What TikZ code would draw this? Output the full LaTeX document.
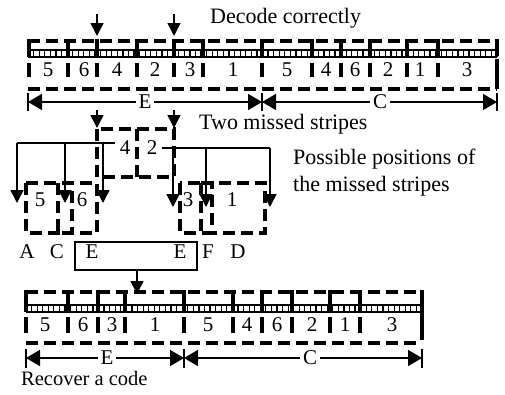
\documentclass[tikz,border=0pt]{standalone}
\usepackage{fontspec}
\setmainfont{Liberation Serif}
\usetikzlibrary{arrows.meta}
\begin{document}
\begin{tikzpicture}[x=1pt,y=-1pt,
  every node/.style={font=\fontsize{21}{23}\selectfont, inner sep=0pt},
  big/.style={font=\fontsize{22}{24}\selectfont},
  dashline/.style={line width=3.6pt, dash pattern=on 12pt off 6pt},
  bar/.style={line width=3.2pt},
  endbar/.style={line width=2.4pt},
  thin/.style={line width=1.6pt},
  conn/.style={line width=1.6pt, -{Triangle[length=13pt,width=13pt]}},
  dimarrow/.style={line width=1.6pt, {Triangle[length=14pt,width=16pt]}-{Triangle[length=14pt,width=16pt]}},
  lbl/.style={fill=white, inner xsep=3pt, inner ysep=1pt}
]
\useasboundingbox (0,0) rectangle (505,394);

% ---------- upper code strip ----------
\node[big, anchor=west] (dec) at (210,18) {Decode correctly};
\coordinate (a1s) at (97,14);  \coordinate (a1e) at (97,36);
\coordinate (a2s) at (174,14); \coordinate (a2e) at (174,36);
\draw[conn] (a1s) -- (a1e);
\draw[conn] (a2s) -- (a2e);

\draw[dashline] (28,41) -- (497,41);
\draw[dashline] (28,89) -- (497,89);
\draw[dashline] (497,41) -- (497,89);
\draw[line width=1.2pt] (28,50) -- (497,50);
\draw[line width=2pt] (28,56.5) -- (497,56.5);
\foreach \i in {0,...,84}
  \draw[line width=1.2pt] ({28+\i*5.5833},50) -- ({28+\i*5.5833},56.5);
\foreach \x in {29,68,97,137,174,203,262,312,341,370,407,438,497} {
  \draw[bar] (\x,39) -- (\x,56);
  \draw[bar] (\x,63) -- (\x,77);
}
\foreach \x/\t [count=\k] in {48/5,84/6,117/4,155/2,190/3,233/1,287/5,326/4,355/6,388/2,420/1,467/3}
  \node (u\k) at (\x,70) {\t};

\coordinate (uL) at (28,102); \coordinate (uM) at (262,102); \coordinate (uR) at (497,102);
\draw[dimarrow] (uL) -- (uM);
\draw[dimarrow] (uM) -- (uR);
\foreach \c in {uL,uM,uR} \draw[endbar] ([yshift=-9pt]\c) -- ([yshift=9pt]\c);
\node[lbl] (uE) at (145,102) {E};
\node[lbl] (uC) at (380,102) {C};

% ---------- the two missed stripes ----------
\node[big, anchor=west] (two) at (199,124) {Two missed stripes};
\coordinate (m1s) at (97,110);  \coordinate (m1e) at (97,128);
\coordinate (m2s) at (174,110); \coordinate (m2e) at (174,128);
\draw[conn] (m1s) -- (m1e);
\draw[conn] (m2s) -- (m2e);

\draw[dashline] (97,129) rectangle (174,177);
\draw[dashline] (137,129) -- (137,177);
\node (s4) at (125,148) {4};
\node (s2) at (152,148) {2};

% candidate positions of stripe 4
\draw[thin] (17,143) -- (115,143);
\foreach \x in {17,65,103} \draw[conn] (\x,143) -- (\x,203);
% candidate positions of stripe 2
\draw[thin] (162,148) -- (270,148);
\foreach \x in {173,206,270} \draw[conn] (\x,148) -- (\x,207);

\draw[dashline] (26,183) rectangle (72,233);
\draw[dashline] (58,183) rectangle (97,233);
\draw[dashline] (180,183) rectangle (212,233);
\draw[dashline] (201,183) rectangle (265,233);
\node (p5) at (40,200) {5};
\node (p6) at (82,200) {6};
\node (p3) at (188,200) {3};
\node (p1) at (232,200) {1};

\node[big, anchor=west] (pos1) at (293,159) {Possible positions of};
\node[big, anchor=west] (pos2) at (293,186) {the missed stripes};

\node (lA) at (27,252) {A};
\node (lC) at (57,252) {C};
\node (lE1) at (92,252) {E};
\node (lE2) at (180,252) {E};
\node (lF) at (208,252) {F};
\node (lD) at (238,252) {D};
\draw[thin] (75,242) rectangle (197,270);
\coordinate (rs) at (137,270); \coordinate (re) at (137,294);
\draw[conn] (rs) -- (re);

% ---------- recovered code strip ----------
\draw[dashline] (26,292) -- (422,292);
\draw[dashline] (26,343) -- (422,343);
\draw[dashline] (422,292) -- (422,343);
\draw[line width=1.2pt] (26,305) -- (422,305);
\draw[line width=2pt] (26,312) -- (422,312);
\foreach \i in {0,...,71}
  \draw[line width=1.2pt] ({26+\i*5.5775},305) -- ({26+\i*5.5775},312);
\foreach \x in {26,68,98,125,184,233,262,292,330,360,422} {
  \draw[bar] (\x,290) -- (\x,312);
  \draw[bar] (\x,317) -- (\x,333);
}
\foreach \x/\t [count=\k] in {45/5,83/6,112/3,155/1,208/5,247/4,277/6,312/2,345/1,392/3}
  \node (b\k) at (\x,325) {\t};

\coordinate (bL) at (26,358); \coordinate (bM) at (184,358); \coordinate (bR) at (422,358);
\draw[dimarrow] (bL) -- (bM);
\draw[dimarrow] (bM) -- (bR);
\foreach \c in {bL,bM,bR} \draw[endbar] ([yshift=-10pt]\c) -- ([yshift=9pt]\c);
\node[lbl] (bE) at (107,358) {E};
\node[lbl] (bC) at (310,358) {C};

\node[font=\fontsize{20.5}{22}\selectfont, anchor=west] (rec) at (21,378) {Recover a code};
\end{tikzpicture}
\end{document}
